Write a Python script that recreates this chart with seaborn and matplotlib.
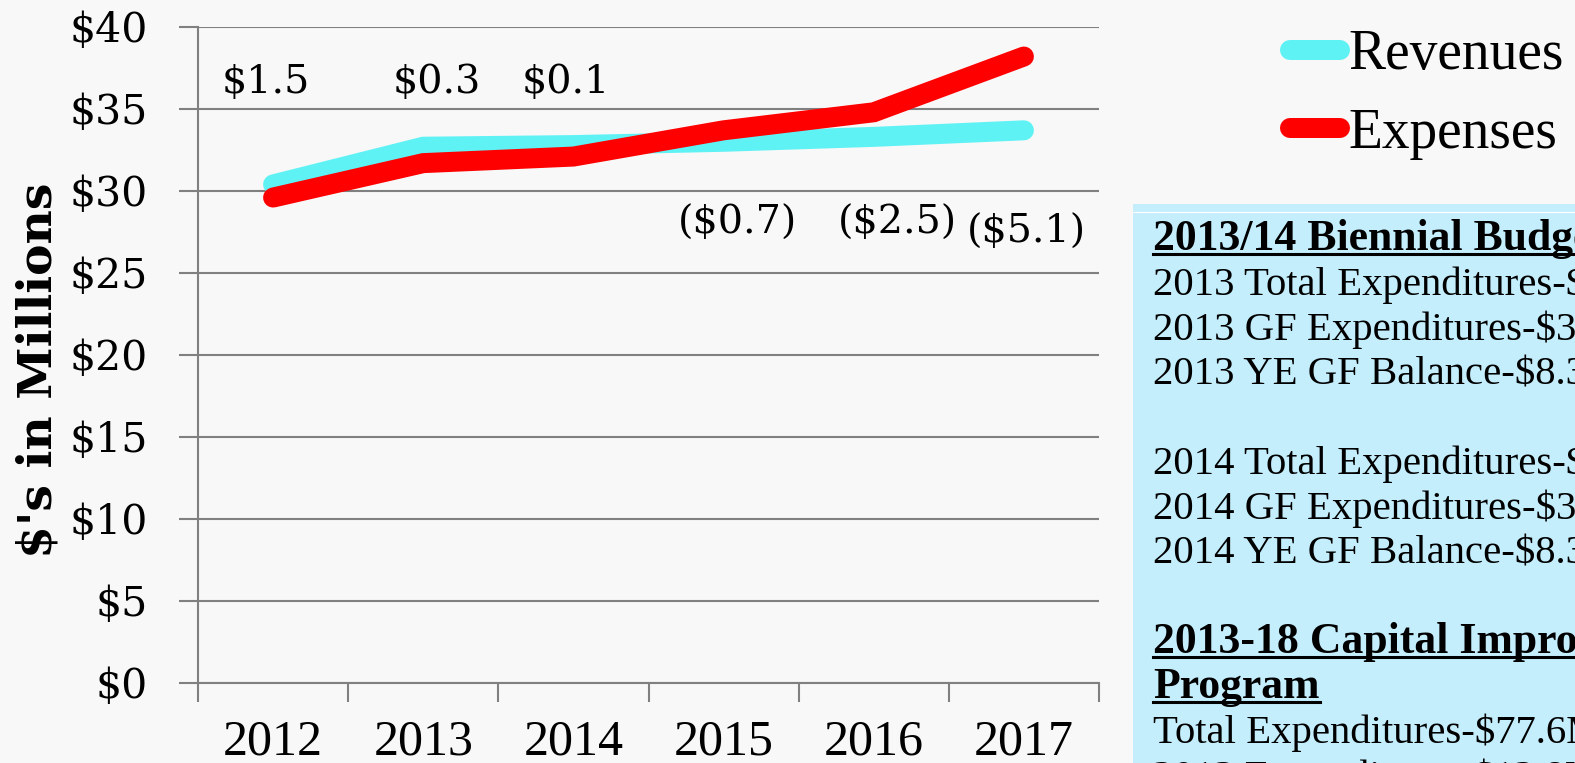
import matplotlib
matplotlib.use("Agg")
import matplotlib.pyplot as plt
from matplotlib.lines import Line2D
from matplotlib.patches import Rectangle
import numpy as np
import pandas as pd
import seaborn as sns

# ---------------------------------------------------------------------------
# Data ($ millions)
# ---------------------------------------------------------------------------
years = ["2012", "2013", "2014", "2015", "2016", "2017"]
revenues = [30.4, 32.7, 32.8, 33.0, 33.3, 33.7]
expenses = [29.6, 31.7, 32.1, 33.7, 34.8, 38.2]
net_labels = ["$1.5", "$0.3", "$0.1", "($0.7)", "($2.5)", "($5.1)"]
net_label_y = [36.6, 36.6, 36.6, 28.0, 28.0, 27.5]

y_ticks = [0, 5, 10, 15, 20, 25, 30, 35, 40]
y_tick_labels = [f"${v}" for v in y_ticks]

series_names = ["Revenues", "Expenses"]
series_colors = ["#5ff2f5", "#ff0000"]

box_lines = [
    "2013/14 Biennial Budget",
    "2013 Total Expenditures-$",
    "2013 GF Expenditures-$3",
    "2013 YE GF Balance-$8.3",
    "",
    "2014 Total Expenditures-$",
    "2014 GF Expenditures-$3",
    "2014 YE GF Balance-$8.3",
    "",
    "2013-18 Capital Improvement",
    "Program",
    "Total Expenditures-$77.6M",
    "2013 Expenditures-$12.8M",
]
box_headings = {0, 9, 10}

# small horizontal nudges of the net labels (category units)
label_dx = [-0.05, 0.09, -0.05, 0.09, 0.16, 0.02]

W, H = 1575, 763
SERIF = "DejaVu Serif"
TIMES = "Liberation Serif"

fig = plt.figure(figsize=(W / 100, H / 100), dpi=100, facecolor="#f8f8f8")
ax = fig.add_axes([198 / W, 80 / H, 901 / W, 656 / H])
ax.set_facecolor("none")

# long-form frame for seaborn
df = pd.DataFrame({
    "pos": np.tile(np.arange(len(years)), 2),
    "value": revenues + expenses,
    "series": np.repeat(series_names, len(years)),
})
sns.lineplot(data=df, x="pos", y="value", hue="series", hue_order=series_names,
             palette=dict(zip(series_names, series_colors)), linewidth=14.4,
             legend=False, sort=False, ax=ax)
for ln in ax.lines:
    ln.set_solid_capstyle("round")
    ln.set_solid_joinstyle("miter")

ax.set_xlim(-0.5, len(years) - 0.5)
ax.set_ylim(0, 40)

# category boundaries as major ticks, labels centred via minor ticks
ax.set_xticks(np.arange(-0.5, len(years), 1.0))
ax.set_xticklabels([])
ax.set_xticks(range(len(years)), minor=True)
ax.set_xticklabels(years, minor=True, fontfamily=TIMES, fontsize=36)
ax.tick_params(axis="x", which="major", length=14, width=1.5, color="#808080")
ax.tick_params(axis="x", which="minor", length=0, pad=26)

ax.set_yticks(y_ticks)
ax.set_yticklabels(y_tick_labels, fontfamily=SERIF, fontsize=29.5)
ax.tick_params(axis="y", length=14, width=1.5, color="#808080", pad=22)

ax.yaxis.grid(True, color="#808080", linewidth=1.5)
ax.xaxis.grid(False)
ax.set_axisbelow(True)
for side in ["top", "right"]:
    ax.spines[side].set_visible(False)
for side in ["left", "bottom"]:
    ax.spines[side].set_color("#808080")
    ax.spines[side].set_linewidth(1.5)

ax.set_xlabel("")
ax.set_ylabel("$'s in Millions", fontfamily=SERIF, fontweight="bold", fontsize=34)
ax.yaxis.set_label_coords(-0.152, 0.477)

# net surplus / deficit labels
for i, lab in enumerate(net_labels):
    ax.text(i + label_dx[i], net_label_y[i], lab, ha="center", va="center",
            fontfamily=SERIF, fontsize=28.5)

# legend
handles = [Line2D([], [], color=c, lw=14.4, solid_capstyle="round") for c in series_colors]
fig.legend(handles, series_names, loc="upper left",
           bbox_to_anchor=(1290 / W, 1 - 29 / H), bbox_transform=fig.transFigure,
           frameon=False, prop={"family": TIMES, "size": 40},
           handlelength=0.9, handletextpad=0.15, labelspacing=0.48,
           borderpad=0, borderaxespad=0)

# info box on the right
fig.add_artist(Rectangle((1133 / W, 0), (W - 1133) / W, (H - 204) / H,
                         transform=fig.transFigure, facecolor="#c4eefc",
                         edgecolor="none", zorder=0))
fig.add_artist(Line2D([1133 / W, 1], [1 - 212 / H] * 2, color="white", lw=0.8,
                      transform=fig.transFigure))

renderer = fig.canvas.get_renderer()
for i, txt in enumerate(box_lines):
    if not txt:
        continue
    base = 250 + 44.8 * i
    heading = i in box_headings
    t = fig.text(1153 / W, 1 - base / H, txt, ha="left", va="baseline",
                 fontfamily=TIMES, fontweight="bold" if heading else "normal",
                 fontsize=31.5 if heading else 29.3)
    if heading:
        bb = t.get_window_extent(renderer)
        uy = 1 - (base + 4) / H
        fig.add_artist(Line2D([bb.x0 / W, min(bb.x1, W) / W], [uy, uy],
                              color="black", lw=2.2, transform=fig.transFigure))

fig.savefig("out.png", dpi=100)
